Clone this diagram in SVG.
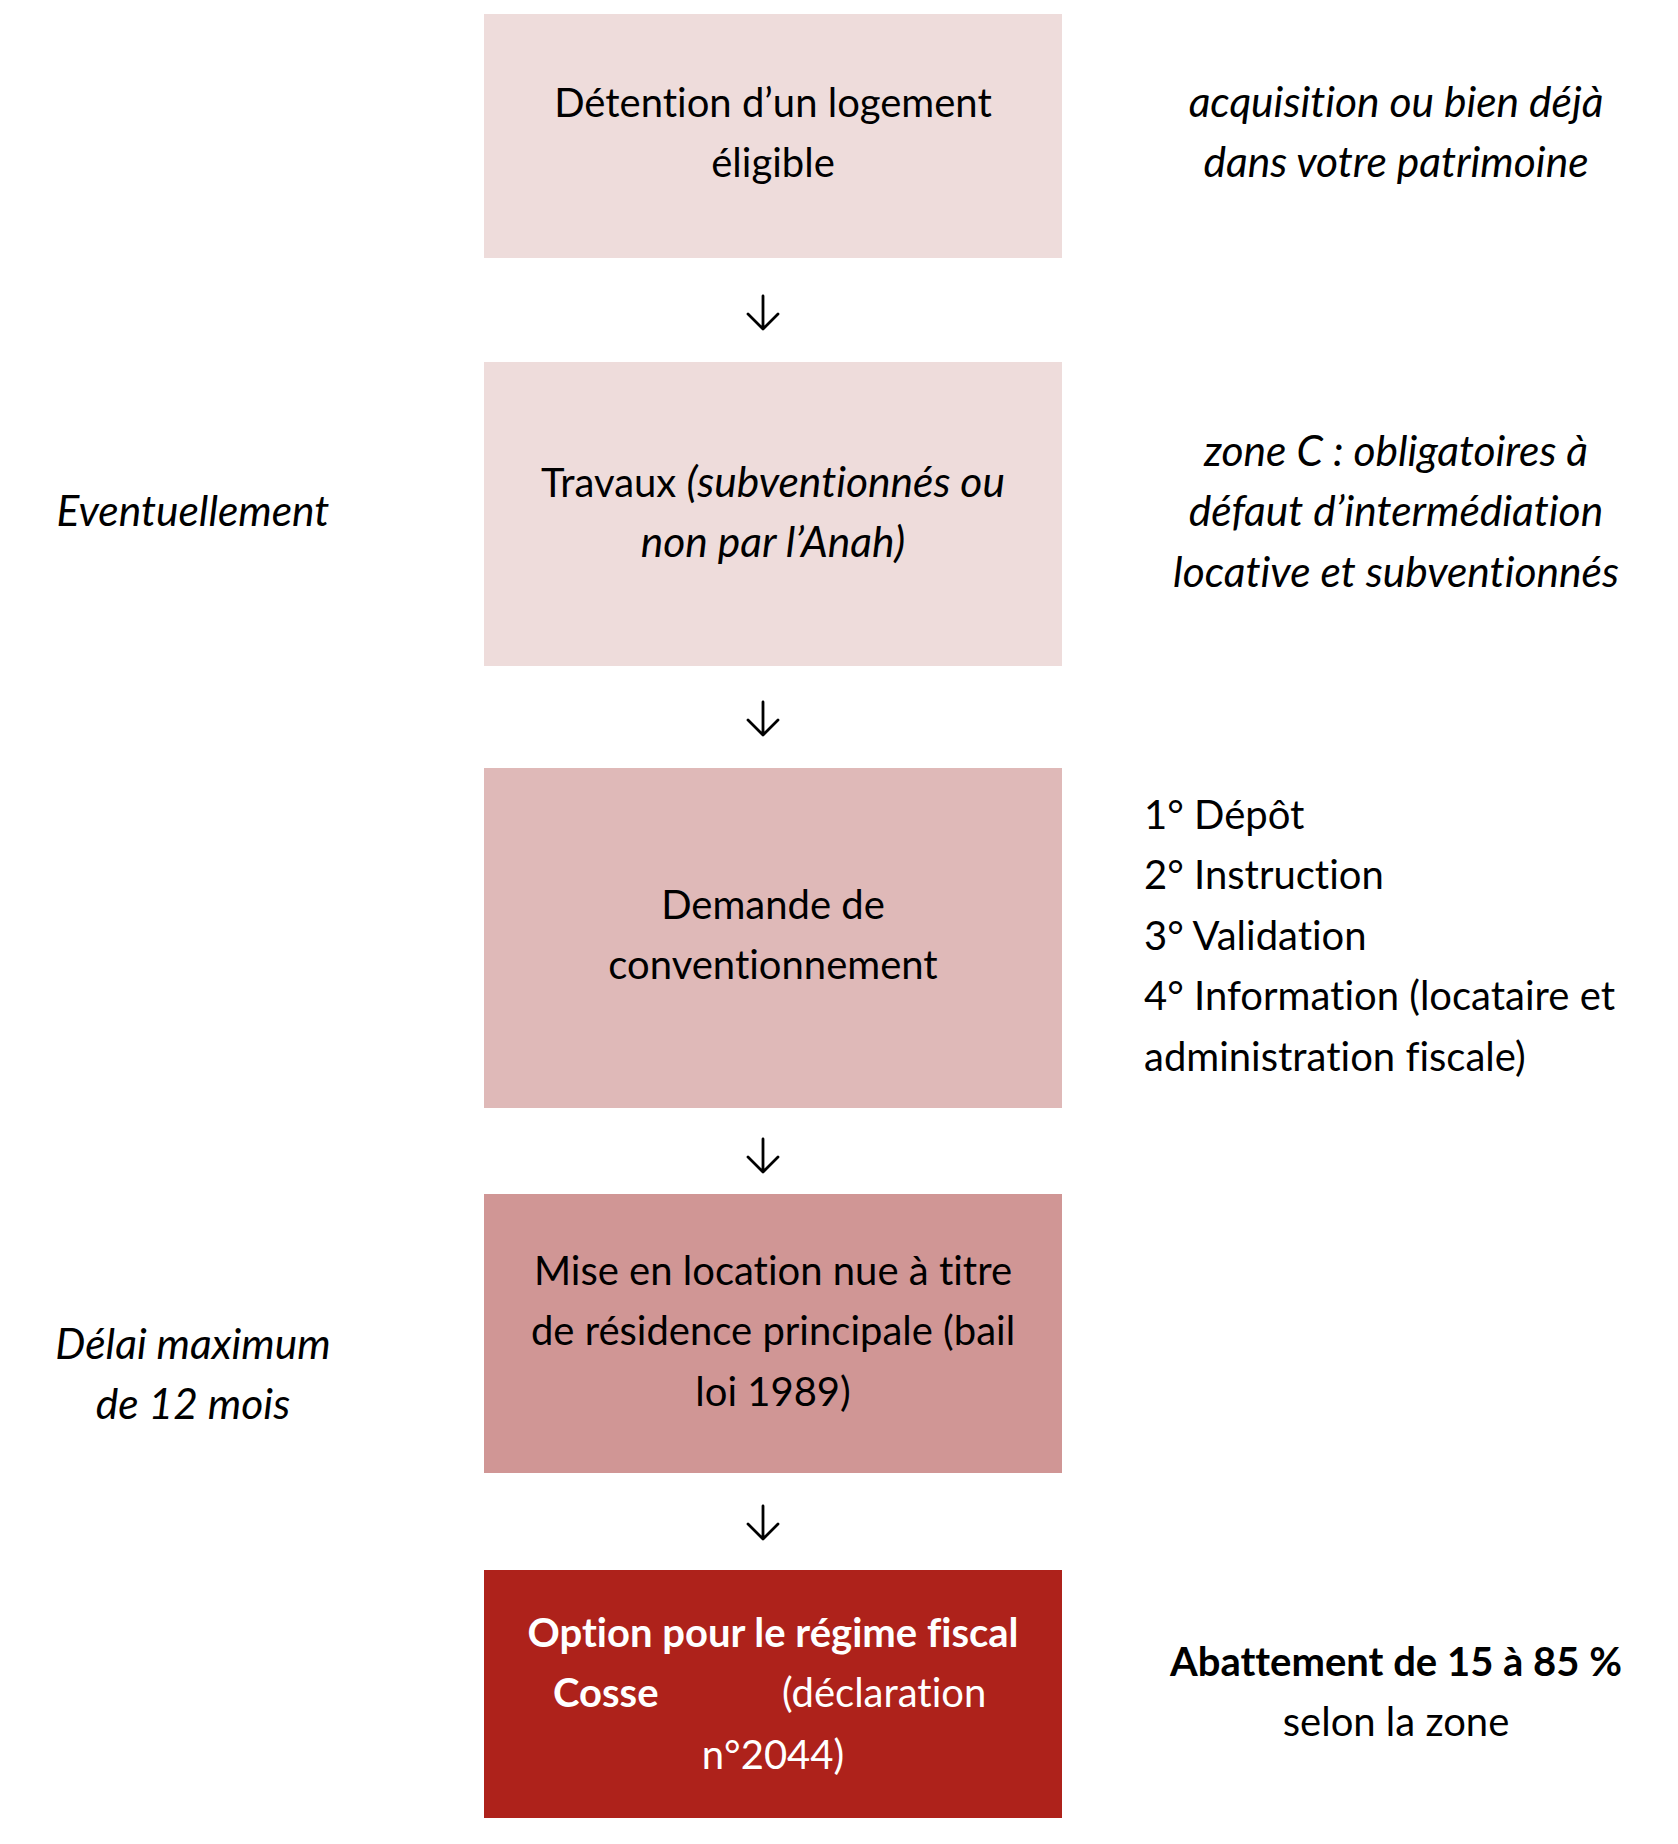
<svg xmlns="http://www.w3.org/2000/svg" width="1678" height="1844" viewBox="0 0 1678 1844">
<style>
  text { font-family: Lato, "Open Sans", "Liberation Sans", sans-serif; font-size: 40px; fill: #000; font-variant-ligatures: none; }
  .c { text-anchor: middle; }
  .i { font-style: italic; font-size: 42.5px; }
  .b { font-weight: bold; }
  .w { fill: #fff; }
  .arrow { fill: none; stroke: #000; stroke-width: 2.8; stroke-linecap: round; stroke-linejoin: round; }
</style>
<rect width="1678" height="1844" fill="#fff"/>

<g id="node1">
  <rect x="484" y="14" width="578" height="244" fill="#EEDCDB"/>
  <text class="c" x="773" y="117">Détention d’un logement</text>
  <text class="c" x="773" y="177">éligible</text>
</g>
<g id="node2">
  <rect x="484" y="362" width="578" height="304" fill="#EEDCDB"/>
  <text class="c" x="773" y="497">Travaux <tspan class="i">(subventionnés ou</tspan></text>
  <text class="c i" x="773" y="557">non par l’Anah)</text>
</g>
<g id="node3">
  <rect x="484" y="768" width="578" height="340" fill="#DFB9B8"/>
  <text class="c" x="773" y="919">Demande de</text>
  <text class="c" x="773" y="979">conventionnement</text>
</g>
<g id="node4">
  <rect x="484" y="1194" width="578" height="279" fill="#D09695"/>
  <text class="c" x="773" y="1285">Mise en location nue à titre</text>
  <text class="c" x="773" y="1345">de résidence principale (bail</text>
  <text class="c" x="773" y="1406">loi 1989)</text>
</g>
<g id="node5">
  <rect x="484" y="1570" width="578" height="248" fill="#AE221B"/>
  <text class="c b w" x="773" y="1647">Option pour le régime fiscal</text>
  <text class="b w" x="553" y="1707">Cosse</text>
  <text class="w" x="782" y="1707">(déclaration</text>
  <text class="c w" x="773" y="1769">n°2044)</text>
</g>

<g id="note-acquisition">
  <text class="c i" x="1396" y="117">acquisition ou bien déjà</text>
  <text class="c i" x="1396" y="177">dans votre patrimoine</text>
</g>
<g id="note-zonec">
  <text class="c i" x="1396" y="466">zone C : obligatoires à</text>
  <text class="c i" x="1396" y="526">défaut d’intermédiation</text>
  <text class="c i" x="1396" y="587">locative et subventionnés</text>
</g>
<g id="note-etapes">
  <text x="1144" y="829">1° Dépôt</text>
  <text x="1144" y="889">2° Instruction</text>
  <text x="1144" y="950">3° Validation</text>
  <text x="1144" y="1010">4° Information (locataire et</text>
  <text x="1144" y="1071">administration fiscale)</text>
</g>
<g id="note-abattement">
  <text class="c b" x="1396" y="1676">Abattement de 15 à 85 %</text>
  <text class="c" x="1396" y="1736">selon la zone</text>
</g>
<g id="note-eventuellement">
  <text class="c i" x="193" y="526">Eventuellement</text>
</g>
<g id="note-delai">
  <text class="c i" x="193" y="1359">Délai maximum</text>
  <text class="c i" x="193" y="1419">de 12 mois</text>
</g>

<g id="connectors">
  <path class="arrow" d="M763 296 V329 M748 314 L763 329 L778 314"/>
  <path class="arrow" d="M763 702 V735 M748 720 L763 735 L778 720"/>
  <path class="arrow" d="M763 1139 V1172 M748 1157 L763 1172 L778 1157"/>
  <path class="arrow" d="M763 1506 V1539 M748 1524 L763 1539 L778 1524"/>
</g>
</svg>
